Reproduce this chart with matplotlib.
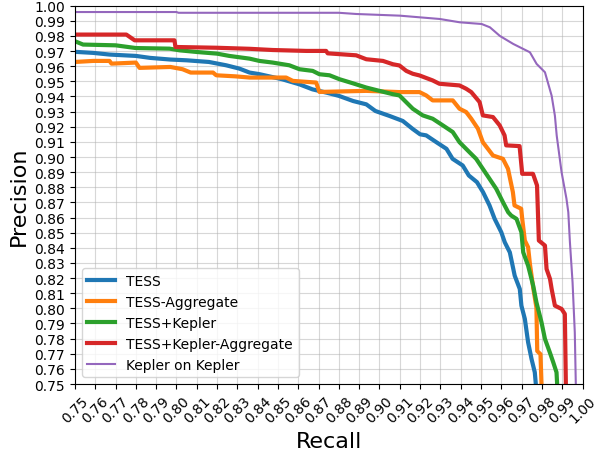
import numpy as np
import matplotlib
matplotlib.use('Agg')
import matplotlib.pyplot as plt

# Curvas precision-recall
tess_r = [0.750, 0.759, 0.767, 0.780, 0.787, 0.797, 0.805, 0.816, 0.8245, 0.831,
          0.836, 0.841, 0.852, 0.8606, 0.867, 0.874, 0.880, 0.887, 0.8935, 0.898,
          0.905, 0.9115, 0.9164, 0.920, 0.923, 0.928, 0.933, 0.936, 0.941, 0.944,
          0.948, 0.951, 0.9542, 0.9567, 0.960, 0.9617, 0.9642, 0.9666, 0.9691, 0.9699,
          0.9716, 0.9732, 0.9749, 0.9765, 0.977, 0.978]
tess_p = [0.9695, 0.9688, 0.9677, 0.9668, 0.9655, 0.9644, 0.9639, 0.9628, 0.9606, 0.9584,
          0.9558, 0.9547, 0.9514, 0.948, 0.9447, 0.9425, 0.9404, 0.937, 0.9348, 0.9304,
          0.9271, 0.9238, 0.9185, 0.915, 0.9143, 0.9098, 0.9054, 0.8988, 0.8944, 0.8878,
          0.8834, 0.8768, 0.868, 0.8592, 0.8503, 0.8437, 0.837, 0.8216, 0.8128, 0.8018,
          0.793, 0.7776, 0.7665, 0.7577, 0.750, 0.740]

tess_agg_r = [0.750, 0.759, 0.767, 0.768, 0.780, 0.7818, 0.797, 0.803, 0.807, 0.818,
              0.8196, 0.829, 0.836, 0.854, 0.8573, 0.8688, 0.8704, 0.8935, 0.9098, 0.9197,
              0.923, 0.9262, 0.9361, 0.9394, 0.9427, 0.9452, 0.9485, 0.9509, 0.9534, 0.9559,
              0.9608, 0.9633, 0.9657, 0.9665, 0.9698, 0.9703, 0.9716, 0.9732, 0.9741, 0.9757,
              0.9773, 0.9777, 0.9793, 0.9798, 0.980]
tess_agg_p = [0.9628, 0.9635, 0.9635, 0.9617, 0.9624, 0.9589, 0.9595, 0.958, 0.9558, 0.9558,
              0.954, 0.9533, 0.9525, 0.9525, 0.9503, 0.9492, 0.943, 0.9437, 0.9429, 0.9429,
              0.9407, 0.9374, 0.9374, 0.9319, 0.9297, 0.9253, 0.9187, 0.9098, 0.9054, 0.901,
              0.8988, 0.8922, 0.8768, 0.868, 0.8658, 0.8592, 0.8448, 0.8404, 0.8293, 0.8138,
              0.8005, 0.7718, 0.7697, 0.750, 0.740]

tk_r = [0.750, 0.754, 0.770, 0.780, 0.7966, 0.8015, 0.810, 0.820, 0.826, 0.836,
        0.8408, 0.8474, 0.8556, 0.8606, 0.8671, 0.8704, 0.8754, 0.8803, 0.8869, 0.8935,
        0.900, 0.9066, 0.9098, 0.9131, 0.9164, 0.9213, 0.9262, 0.9312, 0.9361, 0.9394,
        0.9443, 0.9476, 0.9509, 0.9542, 0.9575, 0.9608, 0.9634, 0.9649, 0.9675, 0.9699,
        0.9708, 0.9732, 0.9757, 0.9773, 0.9798, 0.9815, 0.9839, 0.9856, 0.9872, 0.9875, 0.988]
tk_p = [0.9765, 0.9743, 0.9738, 0.972, 0.9716, 0.9705, 0.9694, 0.9683, 0.9668, 0.965,
        0.9635, 0.9624, 0.9606, 0.958, 0.9569, 0.9547, 0.954, 0.9514, 0.9487, 0.9459,
        0.9437, 0.9415, 0.9407, 0.9363, 0.9319, 0.9275, 0.9253, 0.9209, 0.9165, 0.9098,
        0.9032, 0.8988, 0.8922, 0.8856, 0.879, 0.8702, 0.8635, 0.8613, 0.8591, 0.8503,
        0.837, 0.8282, 0.815, 0.804, 0.7908, 0.7798, 0.7709, 0.7643, 0.7577, 0.750, 0.740]

tk_agg_r = [0.750, 0.7753, 0.7794, 0.799, 0.7995, 0.8196, 0.836, 0.8474, 0.8639, 0.8737,
            0.8745, 0.8885, 0.8935, 0.9017, 0.9066, 0.9098, 0.9132, 0.9164, 0.9197, 0.9262,
            0.9295, 0.9394, 0.9427, 0.9452, 0.9493, 0.9509, 0.9559, 0.9592, 0.9616, 0.9624,
            0.969, 0.9703, 0.9756, 0.9776, 0.9785, 0.9815, 0.9823, 0.984, 0.9848, 0.9864,
            0.9897, 0.9913, 0.9918, 0.992]
tk_agg_p = [0.9809, 0.9809, 0.9771, 0.9771, 0.9727, 0.9722, 0.9715, 0.9707, 0.9701, 0.9701,
            0.9685, 0.9672, 0.9646, 0.9635, 0.9613, 0.9605, 0.9569, 0.955, 0.9539, 0.9506,
            0.9484, 0.9473, 0.9451, 0.9429, 0.9363, 0.9275, 0.9264, 0.9209, 0.9143, 0.9077,
            0.9072, 0.8889, 0.8889, 0.8812, 0.8448, 0.8415, 0.826, 0.8194, 0.8128, 0.8018,
            0.7996, 0.7963, 0.750, 0.740]

kk_r = [0.750, 0.800, 0.801, 0.880, 0.8886, 0.910, 0.9297, 0.9396, 0.9503, 0.9544,
        0.9593, 0.9659, 0.9741, 0.9774, 0.9815, 0.9848, 0.9864, 0.9873, 0.9897, 0.9921,
        0.993, 0.9938, 0.9951, 0.9962, 0.9967, 0.997]
kk_p = [0.9958, 0.9958, 0.9953, 0.9953, 0.9945, 0.9934, 0.9912, 0.989, 0.9879, 0.9857,
        0.980, 0.9747, 0.9692, 0.9615, 0.956, 0.9405, 0.9273, 0.9141, 0.8899, 0.8724,
        0.8635, 0.8437, 0.8172, 0.7841, 0.750, 0.740]

ticks = np.round(np.arange(0.75, 1.0001, 0.01), 2)

fig = plt.figure(figsize=(5.95, 4.6), dpi=100)
ax = fig.add_axes([0.126, 0.163, 0.853, 0.8225])

ax.plot(tess_r, tess_p, color='tab:blue', lw=3, label='TESS')
ax.plot(tess_agg_r, tess_agg_p, color='tab:orange', lw=3, label='TESS-Aggregate')
ax.plot(tk_r, tk_p, color='tab:green', lw=3, label='TESS+Kepler')
ax.plot(tk_agg_r, tk_agg_p, color='tab:red', lw=3, label='TESS+Kepler-Aggregate')
ax.plot(kk_r, kk_p, color='tab:purple', lw=1.5, label='Kepler on Kepler')

ax.set_xlim(0.75, 1.0)
ax.set_ylim(0.75, 1.0)
ax.set_xticks(ticks)
ax.set_yticks(ticks)
ax.set_xticklabels(['%.2f' % t for t in ticks], rotation=45, fontsize=10)
ax.set_yticklabels(['%.2f' % t for t in ticks], fontsize=10)
ax.grid(alpha=0.5)
ax.set_xlabel('Recall', fontsize=16)
ax.set_ylabel('Precision', fontsize=16)
ax.legend(loc='lower left', fontsize=10)

plt.savefig('out.png', dpi=100)
